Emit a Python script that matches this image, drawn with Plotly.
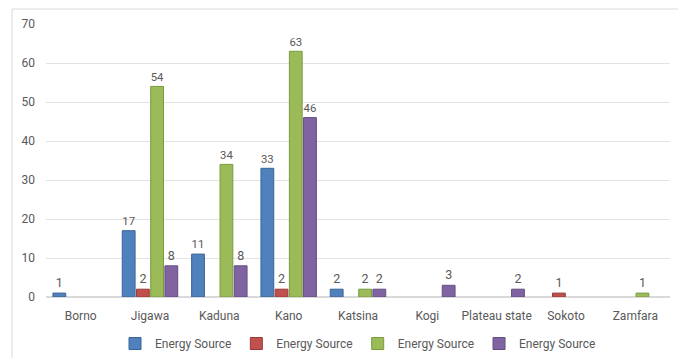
import plotly.graph_objects as go

categories = ["Borno", "Jigawa", "Kaduna", "Kano", "Katsina", "Kogi", "Plateau state", "Sokoto", "Zamfara"]
series_names = ["Energy Source", "Energy Source", "Energy Source", "Energy Source"]
blue_vals = [1, 17, 11, 33, 2, None, None, None, None]
red_vals = [None, 2, None, 2, None, None, None, 1, None]
green_vals = [None, 54, 34, 63, 2, None, None, None, 1]
purple_vals = [None, 8, 8, 46, 2, 3, 2, None, None]
y_ticks = [0, 10, 20, 30, 40, 50, 60, 70]

colors = ["#4F81BD", "#C0504D", "#9BBB59", "#8064A2"]
edge = ["#3A6497", "#9B3B38", "#7A9A40", "#634D82"]
all_vals = [blue_vals, red_vals, green_vals, purple_vals]

FONT = "Roboto"
GREY = "#595959"

fig = go.Figure()
for name, vals, c, e in zip(series_names, all_vals, colors, edge):
    fig.add_trace(go.Bar(
        x=categories, y=vals, name=name,
        marker=dict(color=c, line=dict(color=e, width=1)),
        texttemplate="%{y}", textposition="outside",
        textfont=dict(family=FONT, size=12.5, color=GREY),
        outsidetextfont=dict(family=FONT, size=12.5, color=GREY),
        cliponaxis=False,
    ))

W, H = 678, 358
ml, mr, mt, mb = 46, 8, 24, 61
pw, ph = W - ml - mr, H - mt - mb

fig.update_layout(
    width=W, height=H,
    margin=dict(l=ml, r=mr, t=mt, b=mb, autoexpand=False),
    barmode="group", bargap=0.18, bargroupgap=0.1,
    paper_bgcolor="white", plot_bgcolor="white",
    font=dict(family=FONT, size=12, color=GREY),
    showlegend=True,
    legend=dict(orientation="h", x=0.5, xanchor="center", y=-(329 - 297) / ph, yanchor="top",
                font=dict(family=FONT, size=12, color=GREY),
                bgcolor="rgba(0,0,0,0)",
                itemwidth=30, traceorder="normal"),
    xaxis=dict(showgrid=False, showline=True, linecolor="#D9D9D9", ticks="",
               tickfont=dict(family=FONT, size=12, color=GREY), ticklabelstandoff=8,
               automargin=False),
    yaxis=dict(range=[0, 70], tickvals=y_ticks, showgrid=True, gridcolor="#E3E3E3",
               zeroline=True, zerolinecolor="#D9D9D9", showline=False, ticks="",
               tickfont=dict(family=FONT, size=12, color=GREY), ticklabelstandoff=10,
               automargin=False),
    shapes=[dict(type="rect", xref="paper", yref="paper",
                 x0=(12 - ml) / pw, x1=(W + 5 - ml) / pw,
                 y0=-(mb + 5) / ph, y1=(ph + mt - 9) / ph,
                 line=dict(color="#D9D9D9", width=1), fillcolor="rgba(0,0,0,0)",
                 layer="below")],
)

fig.write_html("out.html")
